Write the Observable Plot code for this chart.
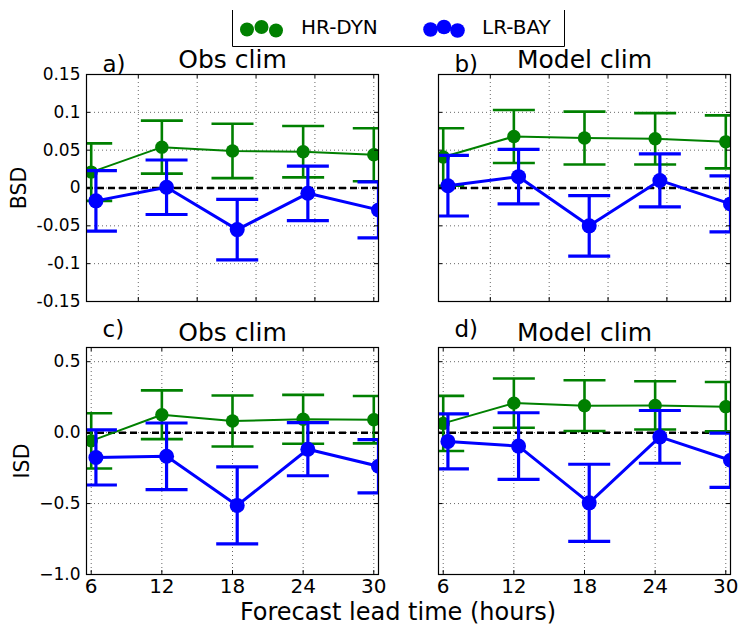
<!DOCTYPE html>
<html>
<head>
<meta charset="utf-8">
<script src="https://cdn.jsdelivr.net/npm/d3@7"></script>
<script src="https://cdn.jsdelivr.net/npm/@observablehq/plot@0.6"></script>
<style>
  body { margin: 0; background: #fff; }
  #root { position: relative; width: 740px; height: 626px; overflow: hidden; font-family: "DejaVu Sans", sans-serif; background: #fff; }
  #root > svg { position: absolute; }
</style>
</head>
<body>
<div id="root">
  <svg id="labels" width="740" height="626" style="left:0;top:0"></svg>
</div>
<script>
// ---------------- data ----------------
const leadTimes = [6, 12, 18, 24, 30];
const lrShift = 0.4; // LR-BAY points are plotted slightly to the right
const seriesNames = ["HR-DYN", "LR-BAY"];

// a) BSD, Obs clim
const bsdObsHR    = [0.021, 0.054, 0.049, 0.048, 0.044];
const bsdObsHRerr = [0.038, 0.035, 0.036, 0.034, 0.035];
const bsdObsLR    = [-0.017, 0.001, -0.055, -0.007, -0.029];
const bsdObsLRerr = [0.040, 0.036, 0.040, 0.036, 0.037];
// b) BSD, Model clim
const bsdModHR    = [0.041, 0.068, 0.066, 0.065, 0.061];
const bsdModHRerr = [0.038, 0.035, 0.035, 0.034, 0.035];
const bsdModLR    = [0.003, 0.015, -0.050, 0.010, -0.021];
const bsdModLRerr = [0.040, 0.036, 0.040, 0.035, 0.037];
// c) ISD, Obs clim
const isdObsHR    = [-0.058, 0.126, 0.082, 0.094, 0.091];
const isdObsHRerr = [0.195, 0.172, 0.180, 0.172, 0.167];
const isdObsLR    = [-0.175, -0.167, -0.513, -0.117, -0.237];
const isdObsLRerr = [0.194, 0.235, 0.271, 0.187, 0.188];
// d) ISD, Model clim
const isdModHR    = [0.065, 0.208, 0.190, 0.192, 0.183];
const isdModHRerr = [0.194, 0.174, 0.179, 0.170, 0.174];
const isdModLR    = [-0.062, -0.095, -0.495, -0.030, -0.195];
const isdModLRerr = [0.194, 0.235, 0.272, 0.186, 0.191];

const bsdTicks      = [-0.15, -0.1, -0.05, 0, 0.05, 0.1, 0.15];
const bsdTickLabels = ["-0.15", "-0.1", "-0.05", "0", "0.05", "0.1", "0.15"];
const isdTicks      = [-1, -0.5, 0, 0.5];
const isdTickLabels = ["\u22121.0", "\u22120.5", "0.0", "0.5"];
const leadTickLabels = ["6", "12", "18", "24", "30"];
const topRowGridX = [10, 15, 20, 25, 30];
const referenceLine = [0];

const panelLetters = ["a)", "b)", "c)", "d)"];
const panelTitles  = ["Obs clim", "Model clim", "Obs clim", "Model clim"];
const yLabels = ["BSD", "ISD"];
const xLabel = "Forecast lead time (hours)";

// ---------------- styles ----------------
const HR_COLOR = "#008000", LR_COLOR = "#0000ff";
const FONT = "DejaVu Sans";
const xDomain = [5.6, 30.4];
const capSymbol = { draw(ctx) { ctx.moveTo(-21, 0); ctx.lineTo(21, 0); } };

function rows(vals, errs, shift) {
  return leadTimes.map((t, i) => ({ x: t + shift, y: vals[i], lo: vals[i] - errs[i], hi: vals[i] + errs[i] }));
}

function seriesMarks(data, color, lw, ew, r) {
  return [
    Plot.ruleX(data, { x: "x", y1: "lo", y2: "hi", stroke: color, strokeWidth: ew, clip: true }),
    Plot.dot(data, { x: "x", y: "hi", symbol: capSymbol, r: 5, stroke: color, strokeWidth: ew, fill: "none", clip: true }),
    Plot.dot(data, { x: "x", y: "lo", symbol: capSymbol, r: 5, stroke: color, strokeWidth: ew, fill: "none", clip: true }),
    Plot.line(data, { x: "x", y: "y", stroke: color, strokeWidth: lw, clip: true }),
    Plot.dot(data, { x: "x", y: "y", r, fill: color, stroke: "none", clip: true })
  ];
}

function panel(p) {
  const plotW = p.width - p.mL - p.mR;
  const plotH = p.height - p.mT - p.mB;
  const xTicks = p.bottom ? leadTimes : topRowGridX;
  const marks = [
    Plot.ruleX(xTicks, { x: d => d, stroke: "#000", strokeOpacity: 0.75, strokeWidth: 0.8, strokeDasharray: "1,3" }),
    Plot.ruleY(p.yTicks, { y: d => d, stroke: "#000", strokeOpacity: 0.75, strokeWidth: 0.8, strokeDasharray: "1,3" }),
    Plot.ruleY(referenceLine, { y: d => d, stroke: "#000", strokeWidth: 2.5, strokeDasharray: "7,4" }),
    ...seriesMarks(rows(p.hr, p.hrErr, 0), HR_COLOR, 2, 2.6, 6.7),
    ...seriesMarks(rows(p.lr, p.lrErr, lrShift), LR_COLOR, 3, 3.2, 7.5),
    Plot.frame({ stroke: "#000", strokeWidth: 1.2 }),
    Plot.tickX(xTicks, { x: d => d, insetTop: plotH - 4, stroke: "#000" }),
    Plot.tickX(xTicks, { x: d => d, insetBottom: plotH - 4, stroke: "#000" }),
    Plot.tickY(p.yTicks, { y: d => d, insetRight: plotW - 4, stroke: "#000" }),
    Plot.tickY(p.yTicks, { y: d => d, insetLeft: plotW - 4, stroke: "#000" }),
    Plot.text([p.title], { frameAnchor: "top", text: d => d, lineAnchor: "bottom", dy: -7, fontSize: 25, fill: "#000" }),
    Plot.text([p.letter], { frameAnchor: "top-left", text: d => d, textAnchor: "start", lineAnchor: "bottom", dx: 16, dy: p.letterDy, fontSize: 23, fill: "#000" })
  ];
  if (p.left0) {
    marks.push(Plot.text(p.yTicks.map((v, i) => ({ v, label: p.yTickLabels[i] })),
      { y: "v", text: "label", frameAnchor: "left", textAnchor: "end", dx: -6, fontSize: 17, fill: "#000" }));
    marks.push(Plot.text([p.ylabel], { frameAnchor: "left", text: d => d, rotate: -90, lineAnchor: "bottom", textAnchor: "middle", dx: p.ylabelDx, fontSize: 20.5, fill: "#000" }));
  }
  if (p.bottom) {
    marks.push(Plot.text(leadTimes.map((v, i) => ({ v, label: leadTickLabels[i] })),
      { x: "v", text: "label", frameAnchor: "bottom", lineAnchor: "top", dy: 4, fontSize: 20, fill: "#000" }));
  }
  const svg = Plot.plot({
    width: p.width, height: p.height,
    marginLeft: p.mL, marginRight: p.mR, marginTop: p.mT, marginBottom: p.mB,
    x: { domain: xDomain, axis: null },
    y: { domain: p.yDomain, axis: null },
    style: { fontFamily: FONT, background: "none", overflow: "visible" },
    marks
  });
  svg.style.position = "absolute";
  svg.style.left = p.left + "px";
  svg.style.top = p.top + "px";
  document.getElementById("root").appendChild(svg);
}

panel({ left: 0, top: 0, width: 390, height: 310, mL: 86, mR: 12, mT: 74, mB: 9,
  hr: bsdObsHR, hrErr: bsdObsHRerr, lr: bsdObsLR, lrErr: bsdObsLRerr,
  yDomain: [-0.15, 0.15], yTicks: bsdTicks, yTickLabels: bsdTickLabels,
  title: panelTitles[0], letter: panelLetters[0], letterDy: -3, left0: true, bottom: false, ylabel: yLabels[0], ylabelDx: -61 });
panel({ left: 390, top: 0, width: 350, height: 310, mL: 48, mR: 10, mT: 74, mB: 9,
  hr: bsdModHR, hrErr: bsdModHRerr, lr: bsdModLR, lrErr: bsdModLRerr,
  yDomain: [-0.15, 0.15], yTicks: bsdTicks, yTickLabels: bsdTickLabels,
  title: panelTitles[1], letter: panelLetters[1], letterDy: -3, left0: false, bottom: false });
panel({ left: 0, top: 310, width: 390, height: 316, mL: 86, mR: 12, mT: 37, mB: 52,
  hr: isdObsHR, hrErr: isdObsHRerr, lr: isdObsLR, lrErr: isdObsLRerr,
  yDomain: [-1, 0.6], yTicks: isdTicks, yTickLabels: isdTickLabels,
  title: panelTitles[2], letter: panelLetters[2], letterDy: -11, left0: true, bottom: true, ylabel: yLabels[1], ylabelDx: -58 });
panel({ left: 390, top: 310, width: 350, height: 316, mL: 48, mR: 10, mT: 37, mB: 52,
  hr: isdModHR, hrErr: isdModHRerr, lr: isdModLR, lrErr: isdModLRerr,
  yDomain: [-1, 0.6], yTicks: isdTicks, yTickLabels: isdTickLabels,
  title: panelTitles[3], letter: panelLetters[3], letterDy: -11, left0: false, bottom: true });

// ---------------- legend and shared x label ----------------
const lab = d3.select("#labels").attr("font-family", FONT);
lab.append("path").attr("d", "M232.5,10V46.5H564.5V10").attr("fill", "none").attr("stroke", "#000").attr("stroke-width", 1);
const legendItems = [
  { name: seriesNames[0], color: HR_COLOR, r: 7, cx: [247, 261.5, 276], tx: 301 },
  { name: seriesNames[1], color: LR_COLOR, r: 7.3, cx: [430.5, 444, 457.5], tx: 482 }
];
const legendCy = [29.5, 27, 30.5];
legendItems.forEach(it => {
  it.cx.forEach((cx, j) => lab.append("circle").attr("cx", cx).attr("cy", legendCy[j]).attr("r", it.r).attr("fill", it.color));
  lab.append("text").attr("x", it.tx).attr("y", 33.5).attr("font-size", 20).attr("fill", "#000").text(it.name);
});
lab.append("text").attr("x", 398).attr("y", 620).attr("text-anchor", "middle").attr("font-size", 24).attr("fill", "#000").text(xLabel);
</script>
</body>
</html>
